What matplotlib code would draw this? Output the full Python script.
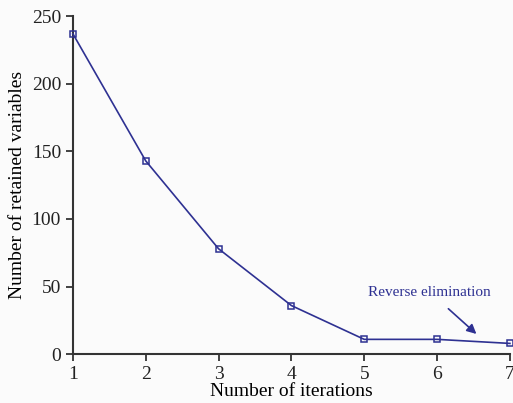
import matplotlib
matplotlib.use('Agg')
import matplotlib.pyplot as plt

iterations = [1, 2, 3, 4, 5, 6, 7]
retained = [237, 143, 78, 36, 11, 11, 8]

line_color = '#2e3192'

plt.rcParams['font.family'] = ['Liberation Serif', 'DejaVu Serif']

fig = plt.figure(figsize=(5.13, 4.03), dpi=100, facecolor='#fbfbfb')
ax = fig.add_axes([0.142, 0.121, 0.852, 0.839], facecolor='#fbfbfb')

ax.plot(iterations, retained, color=line_color, lw=1.2, marker='s', markersize=5,
        markerfacecolor='none', markeredgecolor=line_color, markeredgewidth=1.1,
        clip_on=False, zorder=3)

ax.set_xlim(1, 7)
ax.set_ylim(0, 250)
ax.set_xticks(iterations)
ax.set_yticks([0, 50, 100, 150, 200, 250])
ax.tick_params(labelsize=14, direction='out', length=5, width=1.2, colors='#222222')
for s in ['top', 'right']:
    ax.spines[s].set_visible(False)
for s in ['left', 'bottom']:
    ax.spines[s].set_linewidth(1.5)
    ax.spines[s].set_color('#333333')

ax.set_xlabel('Number of iterations', fontsize=14, labelpad=0)
ax.set_ylabel('Number of retained variables', fontsize=14, labelpad=4)

ax.annotate('Reverse elimination', xy=(6.54, 15), xytext=(5.9, 46),
            fontsize=11, color=line_color, ha='center', va='center',
            arrowprops=dict(arrowstyle='-|>', color=line_color, lw=1.2,
                            shrinkA=8, shrinkB=0, mutation_scale=14))

plt.savefig('out.png', dpi=100, facecolor=fig.get_facecolor())
